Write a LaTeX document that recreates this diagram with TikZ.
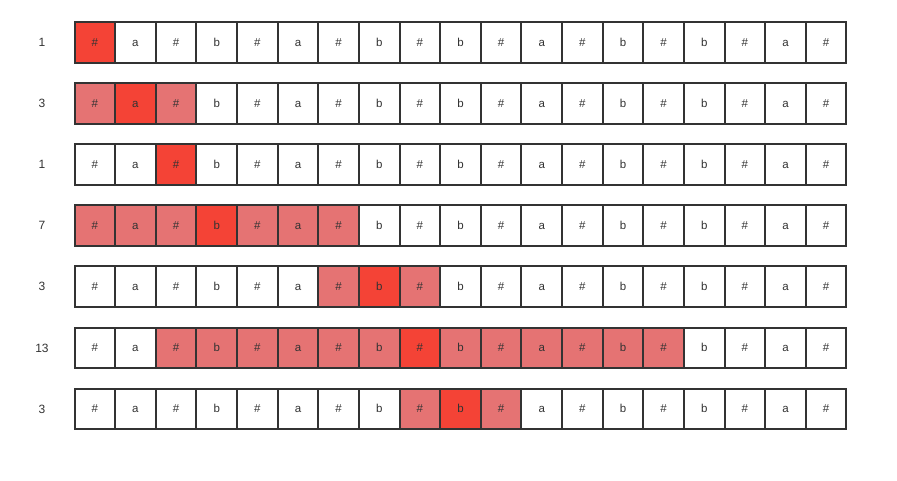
\documentclass[tikz,border=0pt]{standalone}
\usepackage{fontspec}
\setmainfont{Liberation Sans}
\definecolor{hot}{HTML}{F44336}
\definecolor{warm}{HTML}{E57373}
\definecolor{ink}{HTML}{333333}
\tikzset{
  cellbox/.style={draw=ink, line width=2pt, minimum width=40.63pt, minimum height=40.63pt, inner sep=0pt, anchor=north west, text=ink, text height=8pt, text depth=0pt, font=\fontsize{11.5}{14}\selectfont},
  rowlabel/.style={text=ink, text height=9pt, text depth=0pt, font=\fontsize{12}{14}\selectfont}
}
\begin{document}
\begin{tikzpicture}[x=1pt,y=-1pt]
\useasboundingbox[fill=white] (0,0) rectangle (897,481);
\def\seq{{"\#","a","\#","b","\#","a","\#","b","\#","b","\#","a","\#","b","\#","b","\#","a","\#"}}
% row data: label, centre, radius
\foreach \r/\lab/\c/\rad in {0/1/0/0, 1/3/1/1, 2/1/2/0, 3/7/3/3, 4/3/7/1, 5/13/8/6, 6/3/9/1} {
  \pgfmathsetmacro{\ytop}{21+61.1*\r}
  \node[rowlabel] (L\r) at (42,\ytop+21) {\lab};
  \foreach \i in {0,...,18} {
    \pgfmathtruncatemacro{\d}{abs(\i-\c)}
    \pgfmathsetmacro{\txt}{\seq[\i]}
    \ifnum\d=0
      \def\fc{hot}
    \else
      \ifnum\d>\rad \def\fc{white}\else \def\fc{warm}\fi
    \fi
    \node[cellbox, fill=\fc] (c\r-\i) at (73.5+40.63*\i,\ytop) {\txt};
  }
}
\end{tikzpicture}
\end{document}
